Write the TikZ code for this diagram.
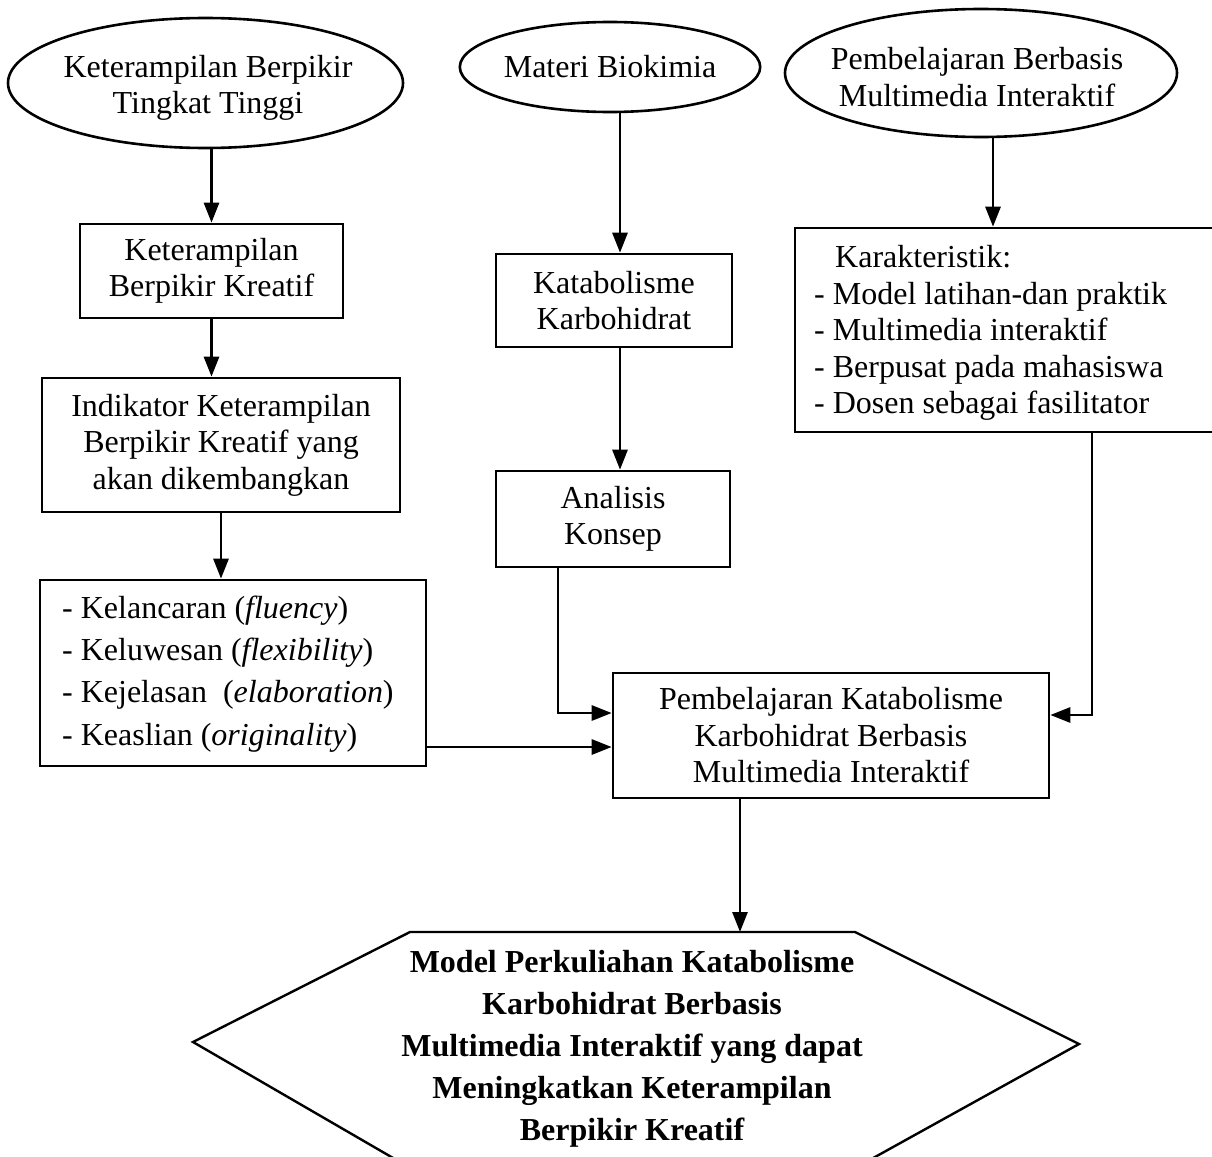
\documentclass[tikz,border=0pt]{standalone}
\usepackage{fontspec}
\setmainfont{Liberation Serif}
\usetikzlibrary{shapes.geometric,arrows.meta,calc}
\newcommand\fsmain{\fontsize{32}{36.5}\selectfont}
\newcommand\fslist{\fontsize{32}{42.3}\selectfont}
\newcommand\fshex{\fontsize{32}{42}\selectfont\bfseries}
\begin{document}
\begin{tikzpicture}[x=1pt,y=-1pt,
  boxnode/.style={draw, line width=2.6pt, rectangle, inner sep=0pt, align=center, font=\fsmain},
  ellnode/.style={draw, line width=2.6pt, ellipse, inner sep=0pt, align=center, font=\fsmain},
  txt/.style={inner sep=0pt, align=left},
  arr/.style={line width=2.8pt, -{Triangle[length=20pt,width=15pt]}},
  hexline/.style={line width=2.4pt}]
\useasboundingbox (0,0) rectangle (1212,1156);

% left column
\node[ellnode, minimum width=395, minimum height=130] (e1) at (205.5,83) {};
\node[txt, align=center, font=\fsmain] (e1t) at (208,88) {Keterampilan Berpikir\\Tingkat Tinggi};
\node[boxnode, minimum width=263, minimum height=94] (b1) at (211.5,271) {Keterampilan\\Berpikir Kreatif};
\node[boxnode, minimum width=358, minimum height=134] (b2) at (221,445) {Indikator Keterampilan\\Berpikir Kreatif yang\\akan dikembangkan};
\node[boxnode, minimum width=386, minimum height=186] (b3) at (233,673) {};
\node[txt, font=\fslist, anchor=west] (b3t) at (62,674) {- Kelancaran (\textit{fluency})\\- Keluwesan (\textit{flexibility})\\- Kejelasan~ (\textit{elaboration})\\- Keaslian (\textit{originality})};

% middle column
\node[ellnode, minimum width=264, minimum height=90] (e2) at (610,67) {Materi Biokimia};
\node[boxnode, minimum width=236, minimum height=93] (k1) at (614,300.5) {Katabolisme\\Karbohidrat};
\node[boxnode, minimum width=234, minimum height=96] (k2) at (613,519) {Analisis\\Konsep};

% right column
\node[ellnode, minimum width=392, minimum height=128] (e3) at (981,73) {};
\node[txt, align=center, font=\fsmain] (e3t) at (977,77) {Pembelajaran Berbasis\\Multimedia Interaktif};
\node[boxnode, minimum width=421, minimum height=204] (r) at (1005.5,330) {};
\node[txt, font=\fsmain, anchor=west] (rt) at (814,333) {\hspace*{21pt}Karakteristik:\\- Model latihan-dan praktik\\- Multimedia interaktif\\- Berpusat pada mahasiswa\\- Dosen sebagai fasilitator};

% central box
\node[boxnode, minimum width=436, minimum height=125] (p) at (831,735.5) {Pembelajaran Katabolisme\\Karbohidrat Berbasis\\Multimedia Interaktif};

% hexagon
\coordinate (hTL) at (410,932);
\coordinate (hTR) at (855,932);
\coordinate (hR) at (1079,1044);
\coordinate (hBR) at (866,1162);
\coordinate (hBL) at (400,1162);
\coordinate (hL) at (193,1042);
\draw[hexline] (hTL) -- (hTR) -- (hR) -- (hBR) -- (hBL) -- (hL) -- cycle;
\node[txt, align=center, font=\fshex] (ht) at (632,1049) {Model Perkuliahan Katabolisme\\Karbohidrat Berbasis\\Multimedia Interaktif yang dapat\\Meningkatkan Keterampilan\\Berpikir Kreatif};

% connectors
\draw[arr] (e1.south -| b1.north) -- (b1.north);
\draw[arr] (b1.south) -- (b1.south |- b2.north);
\draw[arr] (b2.south) -- (b2.south |- b3.north);
\coordinate (pl2) at ([yshift=-11.5pt]p.west);
\draw[arr] (b3.east |- pl2) -- (pl2);

\coordinate (k1n) at ([xshift=6pt]k1.north);
\draw[arr] (e2.south -| k1n) -- (k1n);
\coordinate (k1s) at ([xshift=6pt]k1.south);
\draw[arr] (k1s) -- (k1s |- k2.north);
\coordinate (pl1) at ([yshift=22.5pt]p.west);
\draw[arr] ([xshift=-55pt]k2.south) |- (pl1);

\coordinate (rn) at ([xshift=-12.5pt]r.north);
\draw[arr] (e3.south -| rn) -- (rn);
\coordinate (pr) at ([yshift=20.5pt]p.east);
\draw[arr] ([xshift=86.5pt]r.south) |- (pr);

\coordinate (ps) at ([xshift=-91pt]p.south);
\draw[arr] (ps) -- (ps |- hTL);
\end{tikzpicture}
\end{document}
